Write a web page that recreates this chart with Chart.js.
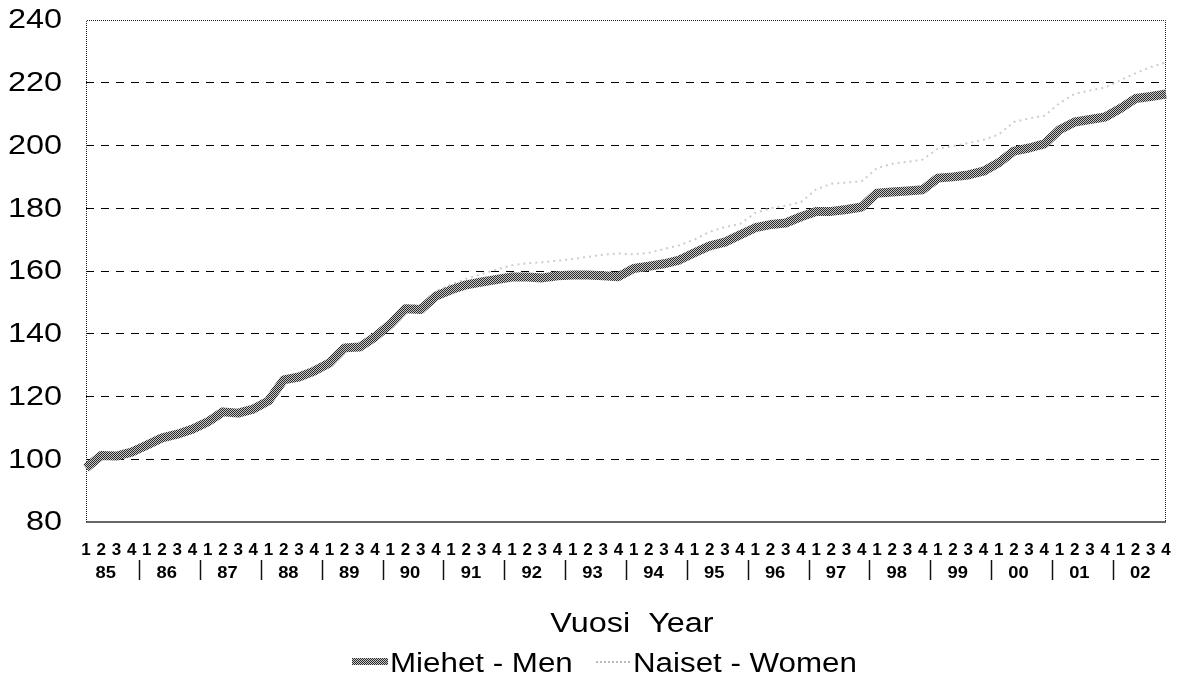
<!DOCTYPE html>
<html>
<head>
<meta charset="utf-8">
<script src="https://cdn.jsdelivr.net/npm/chart.js@4/dist/chart.umd.min.js"></script>
<style>
html,body{margin:0;padding:0;background:#fff;}
#wrap{width:1180px;height:685px;}
</style>
</head>
<body>
<div id="wrap"><canvas id="c" width="1180" height="685"></canvas></div>
<script>
// ---- data ----
const years = ['85','86','87','88','89','90','91','92','93','94','95','96','97','98','99','00','01','02'];
const quarters = ['1','2','3','4'];
const yTicks = [80,100,120,140,160,180,200,220,240];
const men = [97.2,101.2,101.0,102.3,104.5,106.8,108.0,109.6,111.9,115.1,
  114.7,116.0,118.6,125.3,126.2,128.1,130.7,135.5,135.8,139.0,
  143.0,148.0,147.7,152.0,154.0,155.6,156.5,157.3,158.1,158.1,
  157.8,158.5,158.7,158.7,158.5,158.2,160.8,161.5,162.3,163.5,
  165.8,168.0,169.2,171.5,173.8,174.8,175.3,177.3,179.0,179.0,
  179.6,180.4,184.8,185.2,185.5,185.9,189.6,190.0,190.6,191.8,
  194.5,198.2,199.2,200.5,205.0,207.5,208.3,209.1,211.8,215.0,
  215.6,216.4];
const women = [97.5,101.5,101.5,102.8,105.0,107.3,108.5,110.2,112.5,115.8,
  115.5,116.8,119.3,125.8,127.0,129.0,131.5,136.2,136.8,140.0,
  144.0,149.0,149.2,153.5,155.8,157.5,159.0,160.5,161.8,162.5,
  162.8,163.3,163.8,164.5,165.2,165.6,165.3,165.8,167.0,168.2,
  170.0,172.5,174.0,175.0,178.5,180.0,180.8,182.0,186.0,187.8,
  188.2,188.6,192.8,194.2,194.8,195.5,199.0,199.8,200.8,201.8,
  203.5,207.5,208.6,209.5,213.5,216.5,217.5,218.5,220.8,223.0,
  225.0,226.5];
const seriesNames = ['Miehet - Men','Naiset - Women'];
const axisTitle = 'Vuosi  Year';

// categories built from years x quarters
const categories = [];
years.forEach(y => quarters.forEach(q => categories.push(y + '/' + q)));

const FONT = '"Liberation Sans", Arial, Helvetica, sans-serif';

function makePattern(){
  const c = document.createElement('canvas');
  c.width = 2; c.height = 2;
  const g = c.getContext('2d');
  g.fillStyle = '#c8c8c8'; g.fillRect(0,0,2,2);
  g.fillStyle = '#2a2a2a'; g.fillRect(0,0,1,1); g.fillRect(1,1,1,1);
  return g.createPattern(c,'repeat');
}
const menPattern = makePattern();

function stretchedText(ctx, txt, x, y, align, sx){
  ctx.save();
  ctx.translate(x, y);
  ctx.scale(sx, 1);
  ctx.textAlign = align;
  ctx.fillText(txt, 0, 0);
  ctx.restore();
}

const framePlugin = {
  id:'frame',
  beforeDatasetsDraw(chart){
    const {ctx, chartArea:a} = chart;
    ctx.save();
    ctx.strokeStyle = '#222';
    ctx.lineWidth = 1;
    ctx.setLineDash([1,1]);
    ctx.beginPath();
    ctx.moveTo(a.left+0.5, a.bottom); ctx.lineTo(a.left+0.5, a.top+0.5);
    ctx.lineTo(a.right-0.5, a.top+0.5); ctx.lineTo(a.right-0.5, a.bottom);
    ctx.stroke();
    ctx.setLineDash([]);
    ctx.strokeStyle = '#333';
    ctx.lineWidth = 1.5;
    ctx.beginPath();
    ctx.moveTo(a.left, a.bottom); ctx.lineTo(a.right, a.bottom);
    ctx.stroke();
    ctx.restore();
  }
};

const textPlugin = {
  id:'texts',
  afterDraw(chart){
    const {ctx} = chart;
    const xs = chart.scales.x, ys = chart.scales.y;
    ctx.save();
    ctx.fillStyle = '#000';
    // y labels
    ctx.font = '27px ' + FONT;
    ctx.textBaseline = 'middle';
    yTicks.forEach(v => {
      stretchedText(ctx, String(v), 62, ys.getPixelForValue(v) + 1, 'right', 1.2);
    });
    // year labels & separators
    ctx.font = 'bold 17px ' + FONT;
    ctx.textBaseline = 'alphabetic';
    ctx.strokeStyle = '#111';
    ctx.lineWidth = 1.5;
    years.forEach((yr,k) => {
      const p0 = xs.getPixelForValue(4*k), p3 = xs.getPixelForValue(4*k+3);
      stretchedText(ctx, yr, (p0+p3)/2 - 3, 578, 'center', 1.08);
      if (k < years.length-1){
        const s = Math.round((p3 + xs.getPixelForValue(4*k+4))/2) + 0.5;
        ctx.beginPath(); ctx.moveTo(s, 560); ctx.lineTo(s, 580); ctx.stroke();
      }
    });
    // axis title
    ctx.font = '27px ' + FONT;
    stretchedText(ctx, axisTitle, 632, 632, 'center', 1.2);
    // legend
    ctx.fillStyle = menPattern;
    ctx.fillRect(352, 658, 36, 7);
    ctx.fillStyle = '#000';
    stretchedText(ctx, seriesNames[0], 390, 672, 'left', 1.16);
    ctx.strokeStyle = '#bbb';
    ctx.lineWidth = 2;
    ctx.setLineDash([2,2]);
    ctx.beginPath(); ctx.moveTo(596, 662); ctx.lineTo(630, 662); ctx.stroke();
    ctx.setLineDash([]);
    stretchedText(ctx, seriesNames[1], 633, 672, 'left', 1.16);
    ctx.restore();
  }
};

new Chart(document.getElementById('c'), {
  type:'line',
  data:{
    labels: categories,
    datasets:[
      {label:seriesNames[0], data:men, borderColor:menPattern, borderWidth:9,
       pointRadius:0, tension:0, fill:false, order:1, borderJoinStyle:'round', borderCapStyle:'butt'},
      {label:seriesNames[1], data:women, borderColor:'#cdcdcd', borderWidth:2, borderDash:[2,4],
       pointRadius:0, tension:0, fill:false, order:2}
    ]
  },
  options:{
    responsive:false,
    devicePixelRatio:1,
    animation:false,
    layout:{padding:{top:20, right:14, left:0, bottom:0}},
    plugins:{legend:{display:false}, tooltip:{enabled:false}, title:{display:false}},
    scales:{
      x:{
        type:'category',
        offset:false,
        grid:{display:false, drawTicks:false},
        border:{display:false},
        ticks:{
          autoSkip:false, maxRotation:0, minRotation:0, padding:18,
          color:'#000', font:{family:FONT, size:17, weight:'bold'},
          callback:(v,i) => quarters[i % 4]
        },
        afterFit:s => { s.height = 163; s.paddingLeft = 0; s.paddingRight = 0; }
      },
      y:{
        min:80, max:240,
        ticks:{stepSize:20, display:false},
        grid:{drawTicks:false, lineWidth:1,
          color:c => (c.tick && (c.tick.value===80 || c.tick.value===240)) ? 'rgba(0,0,0,0)' : '#000'},
        border:{display:false, dash:[8,7]},
        afterFit:s => { s.width = 86; }
      }
    }
  },
  plugins:[framePlugin, textPlugin]
});
</script>
</body>
</html>
